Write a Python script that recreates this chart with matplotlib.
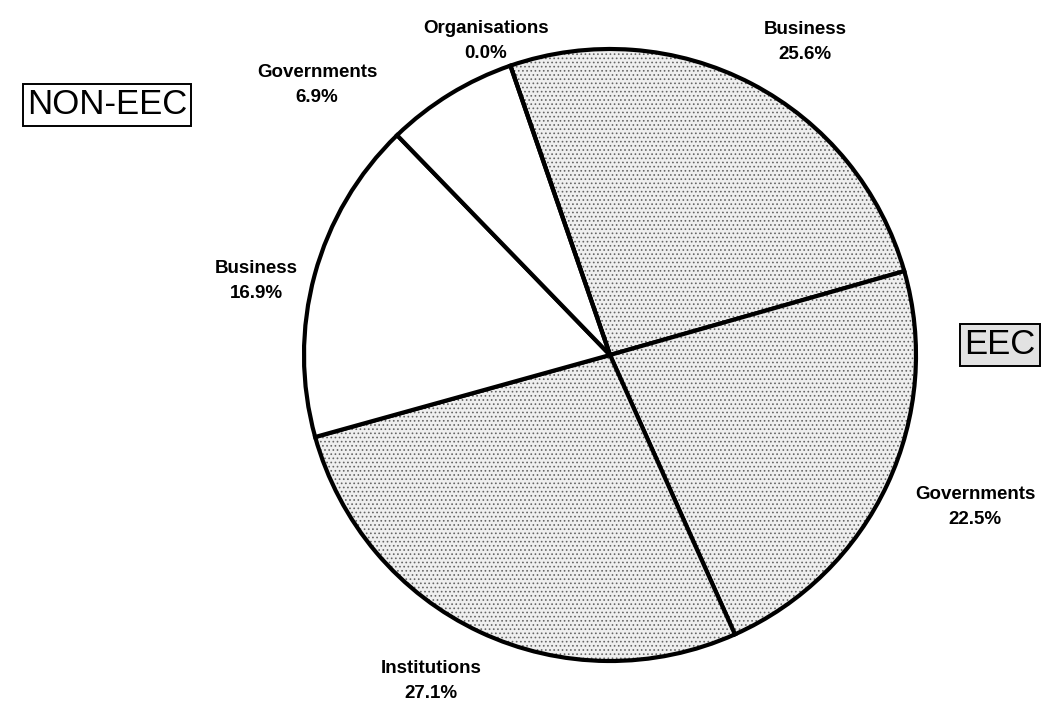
import matplotlib
matplotlib.use("Agg")
import matplotlib.pyplot as plt

# slices clockwise from the top boundary (EEC shaded first, then NON-EEC)
groups = ["EEC", "EEC", "EEC", "NON-EEC", "NON-EEC", "NON-EEC"]
sectors = ["Business", "Governments", "Institutions", "Business", "Governments", "Organisations"]
shares = [25.6, 22.5, 27.1, 16.9, 6.9, 0.0]

# label anchors in pixel space (x, y from top)
label_pos = [(805, 42), (975, 507), (431, 681), (256, 281), (317, 85), (486, 41)]

plt.rcParams["font.family"] = ["Liberation Sans", "DejaVu Sans"]
plt.rcParams["hatch.linewidth"] = 0.7

W, H = 1059, 717
fig = plt.figure(figsize=(W / 100, H / 100), dpi=100)
ax = fig.add_axes([0, 0, 1, 1])

wedges, _ = ax.pie(shares, center=(610, H - 355), radius=306, startangle=109,
                   counterclock=False, normalize=True,
                   wedgeprops=dict(edgecolor="black", linewidth=3.0))
for w, g in zip(wedges, groups):
    if g == "EEC":
        w.set_facecolor("#efefef")
        w.set_hatch("....")
    else:
        w.set_facecolor("white")
    w._hatch_color = (0.4, 0.4, 0.4, 1)

# pie() resets the limits, so set them afterwards
ax.set_xlim(0, W)
ax.set_ylim(0, H)
ax.set_aspect("equal")
ax.axis("off")

for name, val, (x, y) in zip(sectors, shares, label_pos):
    ax.text(x, H - y, f"{name}\n{val:.1f}%", ha="center", va="center",
            fontsize=13.5, fontweight="bold", linespacing=1.65)

ax.text(107, H - 105, "NON-EEC", ha="center", va="center", fontsize=25,
        bbox=dict(boxstyle="square,pad=0.12", facecolor="white",
                  edgecolor="black", linewidth=1.4))
ax.text(1000, H - 345, "EEC", ha="center", va="center", fontsize=25,
        bbox=dict(boxstyle="square,pad=0.12", facecolor="#e2e2e2",
                  edgecolor="black", linewidth=1.4))

fig.savefig("out.png", dpi=100, facecolor="white")
